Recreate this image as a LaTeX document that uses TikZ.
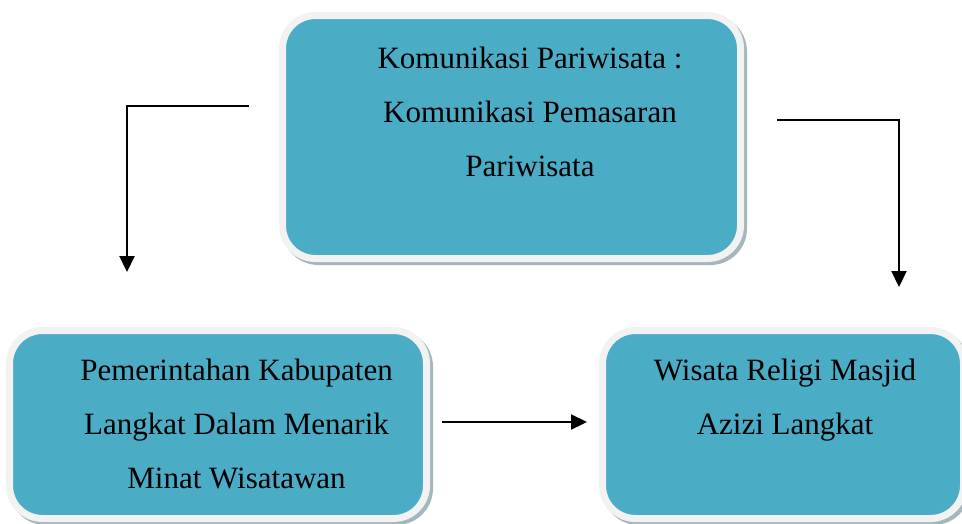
\documentclass[tikz,border=0pt]{standalone}
\usepackage{fontspec}
\setmainfont{Liberation Serif}
\usetikzlibrary{arrows.meta}
\definecolor{boxfill}{HTML}{4BACC6}
\definecolor{boxrim}{HTML}{F2F2F2}
\definecolor{boxshade}{HTML}{A3B7BD}

\begin{document}
\begin{tikzpicture}[x=1pt, y=-1pt,
  panel/.style={draw=boxrim, line width=7pt, fill=boxfill, rounded corners=33pt, inner sep=0pt,
    preaction={draw=boxshade, line width=7pt, transform canvas={xshift=3pt,yshift=-3pt}}},
  boxtext/.style={align=center, inner sep=0pt, anchor=north, font=\fontsize{31}{54}\selectfont},
  link/.style={-{Triangle[length=16pt,width=15pt]}, line width=2.2pt}]
  \useasboundingbox (0,0) rectangle (962,523);

  % boxes
  \node[panel, minimum width=458pt, minimum height=243pt] (tourism) at (511.5,137) {};
  \node[panel, minimum width=417pt, minimum height=188pt] (govt) at (218,424.5) {};
  \node[panel, minimum width=361pt, minimum height=188pt] (mosque) at (783,424.5) {};

  \node[boxtext] (tourismtext) at (530,46.8) {Komunikasi Pariwisata :\\Komunikasi Pemasaran\\Pariwisata};
  \node[boxtext] (govttext) at (236.5,358.8) {Pemerintahan Kabupaten\\Langkat Dalam Menarik\\Minat Wisatawan};
  \node[boxtext] (mosquetext) at (785,358.8) {Wisata Religi Masjid\\Azizi Langkat};

  % connectors
  \coordinate (leftstart) at (249,106);
  \coordinate (leftend) at (127,272);
  \coordinate (rightstart) at (777,120);
  \coordinate (rightend) at (899,287);
  \coordinate (midstart) at (442,422);
  \coordinate (midend) at (587,422);
  \draw[link] (leftstart) -| (leftend);
  \draw[link] (rightstart) -| (rightend);
  \draw[link] (midstart) -- (midend);
\end{tikzpicture}
\end{document}
